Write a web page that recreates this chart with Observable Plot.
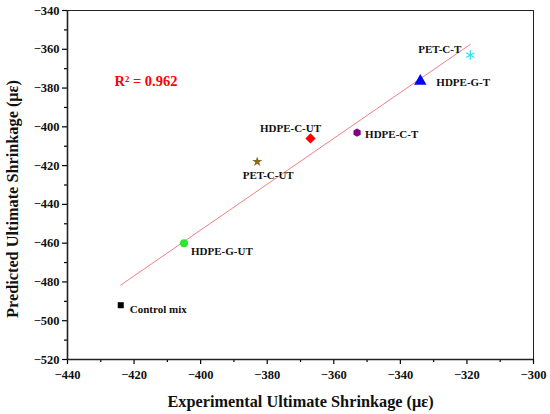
<!DOCTYPE html>
<html><head><meta charset="utf-8">
<script src="https://cdn.jsdelivr.net/npm/d3@7"></script>
<script src="https://cdn.jsdelivr.net/npm/@observablehq/plot@0.6"></script>
<style>
body{margin:0;background:#fff}
</style>
</head><body><div id="chart"></div>
<script>
const mixes = ["Control mix","HDPE-G-UT","PET-C-UT","HDPE-C-UT","HDPE-C-T","HDPE-G-T","PET-C-T"];
const experimental = [-424,-405,-383,-367,-353,-334,-319];
const predicted = [-492,-460,-418,-406,-403,-376.5,-363];
const colors = ["#000000","#2ee62e","#8b6a1a","#ff0000","#800080","#0000ff","#33e0f0"];
const symbols = ["square","circle","star","diamond2","hexagon","triangle","asterisk"];
const xTicks = [-440,-420,-400,-380,-360,-340,-320,-300];
const xMinor = [-430,-410,-390,-370,-350,-330,-310];
const yTicks = [-520,-500,-480,-460,-440,-420,-400,-380,-360,-340];
const yMinor = [-510,-490,-470,-450,-430,-410,-390,-370,-350];
const r2Label = "R² = 0.962";
const xTitle = "Experimental Ultimate Shrinkage (με)";
const yTitle = "Predicted Ultimate Shrinkage (με)";

const FONT = "'Liberation Serif', 'Times New Roman', serif";
const fmt = d3.format("d");
const rows = mixes.map((m, i) => ({mix: m, x: experimental[i], y: predicted[i], symbol: symbols[i]}));

// marker sizes and label placement (layout only)
const markerR = [3.4, 4, 3.2, 4.6, 3.6, 4.6, 4.5];
const labelPos = [
  {dx: 9, dy: 4, a: "start"},
  {dx: 7, dy: 8, a: "start"},
  {dx: 11, dy: 14, a: "middle"},
  {dx: -20, dy: -10, a: "middle"},
  {dx: 8, dy: 2, a: "start"},
  {dx: 16, dy: 1, a: "start"},
  {dx: -9, dy: -6, a: "end"}
];

const labelMarks = rows.map((d, i) => Plot.text([d], {
  x: "x", y: "y", text: "mix", dx: labelPos[i].dx, dy: labelPos[i].dy,
  textAnchor: labelPos[i].a, fontWeight: "bold", fontSize: 11, fill: "#111", fontFamily: FONT
}));

const dotMarks = rows.map((d, i) => d.symbol === "asterisk"
  ? Plot.dot([d], {x: "x", y: "y", symbol: "mix", stroke: "mix", r: markerR[i], strokeWidth: 1.3})
  : Plot.dot([d], {x: "x", y: "y", symbol: "mix", fill: "mix", r: markerR[i]}));

const chart = Plot.plot({
  width: 550, height: 414,
  marginLeft: 67, marginRight: 17, marginTop: 10, marginBottom: 55,
  style: {fontFamily: FONT, background: "#fff"},
  x: {domain: [-440, -300], label: null},
  y: {domain: [-520, -340], label: null},
  symbol: {domain: mixes, range: symbols},
  color: {domain: mixes, range: colors},
  marks: [
    Plot.frame({stroke: "#222", strokeWidth: 1}),
    Plot.axisX(xMinor, {tickSize: 3, tickFormat: () => "", strokeWidth: 1.2, label: null}),
    Plot.axisY(yMinor, {tickSize: 3, tickFormat: () => "", strokeWidth: 1.2, label: null}),
    Plot.axisX(xTicks, {tickSize: 5, tickFormat: () => "", strokeWidth: 1.2, label: null}),
    Plot.axisY(yTicks, {tickSize: 5, tickFormat: () => "", strokeWidth: 1.2, label: null}),
    Plot.text(xTicks, {x: d => d, text: d => fmt(d), frameAnchor: "bottom", dy: 15, lineAnchor: "middle", fontSize: 12.5, fontWeight: "bold", fontFamily: FONT, fill: "#111"}),
    Plot.text(yTicks, {y: d => d, text: d => fmt(d), frameAnchor: "left", dx: -8, textAnchor: "end", lineAnchor: "middle", fontSize: 12.5, fontWeight: "bold", fontFamily: FONT, fill: "#111"}),
    Plot.ruleY([-520], {stroke: "#222", strokeWidth: 1.6}),
    Plot.ruleX([-440], {stroke: "#222", strokeWidth: 1.6}),
    Plot.linearRegressionY(rows, {x: "x", y: "y", stroke: "#f08080", strokeWidth: 1, ci: 0}),
    ...dotMarks,
    ...labelMarks,
    Plot.text([r2Label], {frameAnchor: "top-left", dx: 47, dy: 71, lineAnchor: "middle", textAnchor: "start", fill: "#ff0000", fontWeight: "bold", fontSize: 14.5, fontFamily: FONT}),
    Plot.text([xTitle], {frameAnchor: "bottom", dy: 42, lineAnchor: "middle", fontWeight: "bold", fontSize: 16.3, fill: "#111", fontFamily: FONT}),
    Plot.text([yTitle], {frameAnchor: "left", dx: -55, dy: 14, rotate: -90, lineAnchor: "middle", textAnchor: "middle", fontWeight: "bold", fontSize: 16.3, fill: "#111", fontFamily: FONT})
  ]
});
document.getElementById("chart").appendChild(chart);
</script>
</body></html>
